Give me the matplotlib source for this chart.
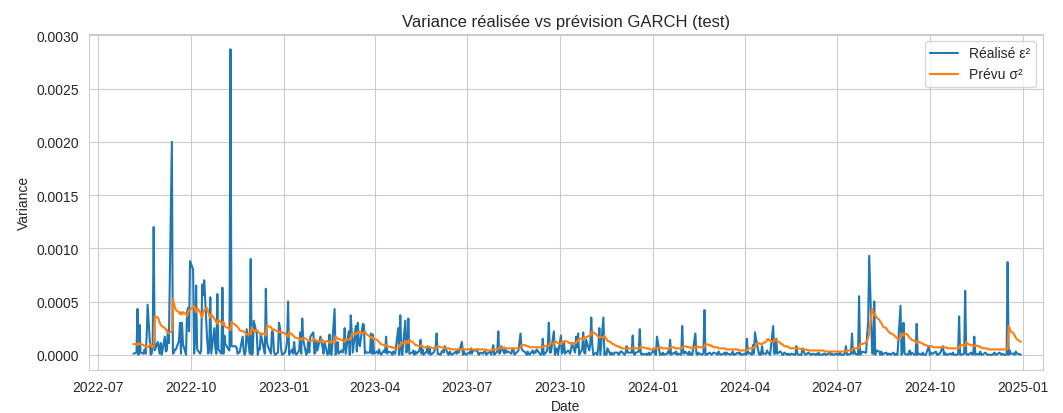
import numpy as np
import pandas as pd
import matplotlib
matplotlib.use("Agg")
import matplotlib.pyplot as plt
import seaborn as sns

# variance réalisée (unités de 1e-5), une ligne = une semaine de bourse
realise = [
    1, 2, 43, 0, 28,   2, 1, 5, 1, 16,   47, 0, 1, 8, 120,   4, 12, 6, 1, 11,
    0, 17, 3, 4, 23,   11, 200, 1, 2, 5,   5, 13, 30, 1, 30,   10, 0, 40, 44, 22,
    88, 80, 1, 14, 65,   5, 1, 4, 66, 56,   70, 13, 1, 6, 54,   1, 25, 6, 1, 57,
    5, 1, 63, 1, 18,   10, 5, 4, 287, 8,   8, 8, 7, 1, 2,   2, 17, 4, 0, 3,
    24, 1, 90, 0, 1,   32, 20, 0, 6, 5,   20, 5, 1, 62, 12,   8, 1, 22, 21, 3,
    0, 2, 30, 25, 6,   0, 2, 6, 13, 50,   0, 5, 1, 12, 2,   0, 4, 21, 1, 34,
    14, 0, 3, 12, 2,   17, 21, 1, 2, 13,   4, 17, 12, 8, 1,   12, 0, 1, 19, 1,
    0, 43, 0, 3, 12,   1, 4, 2, 6, 25,   1, 22, 0, 37, 21,   2, 27, 3, 30, 12,
    8, 29, 28, 1, 3,   2, 2, 20, 1, 19,   1, 3, 1, 5, 2,   0, 4, 2, 17, 1,
    3, 2, 0, 3, 1,   1, 25, 0, 37, 7,   0, 32, 2, 5, 34,   1, 2, 4, 0, 3,
    1, 4, 14, 1, 5,   0, 3, 8, 1, 7,   0, 2, 4, 8, 20,   1, 0, 3, 4, 2,
    8, 1, 0, 3, 1,   0, 2, 3, 1, 5,   2, 12, 0, 3, 1,   0, 2, 1, 6, 1,
    4, 4, 5, 1, 0,   2, 1, 3, 4, 0,   1, 3, 0, 4, 9,   0, 3, 22, 1, 2,
    8, 1, 5, 2, 3,   3, 1, 6, 5, 0,   1, 4, 12, 20, 6,   4, 2, 0, 3, 1,
    0, 4, 1, 3, 2,   5, 1, 0, 1, 15,   0, 3, 8, 30, 2,   2, 22, 0, 4, 6,
    0, 18, 1, 3, 12,   1, 4, 3, 1, 5,   11, 2, 17, 7, 20,   0, 5, 21, 2, 1,
    14, 4, 10, 35, 9,   0, 2, 0, 7, 25,   0, 35, 0, 2, 0,   6, 0, 2, 1, 0,
    2, 2, 0, 1, 3,   3, 0, 2, 8, 2,   2, 2, 18, 1, 0,   2, 3, 24, 1, 0,
    1, 0, 1, 0, 2,   0, 3, 6, 1, 0,   17, 0, 1, 0, 2,   0, 1, 3, 1, 14,
    0, 2, 1, 3, 0,   1, 0, 27, 2, 1,   3, 0, 3, 0, 1,   0, 20, 1, 0, 2,
    1, 0, 2, 42, 0,   0, 2, 1, 0, 1,   2, 1, 0, 3, 1,   0, 1, 2, 0, 2,
    1, 0, 1, 3, 0,   0, 2, 1, 2, 0,   0, 1, 0, 15, 1,   2, 0, 9, 1, 21,
    15, 0, 2, 0, 8,   1, 1, 4, 2, 1,   0, 27, 1, 1, 15,   1, 3, 2, 0, 0,
    2, 0, 1, 0, 0,   1, 0, 0, 8, 1,   0, 0, 6, 4, 1,   0, 2, 1, 0, 0,
    1, 0, 1, 0, 2,   0, 0, 1, 1, 0,   0, 2, 0, 1, 0,   0, 1, 0, 0, 2,
    0, 0, 2, 8, 0,   0, 1, 20, 1, 5,   1, 0, 55, 0, 1,   3, 2, 2, 19, 30,
    93, 1, 1, 50, 0,   4, 3, 0, 3, 0,   1, 2, 0, 1, 1,   0, 2, 0, 0, 1,
    0, 46, 0, 3, 30,   1, 0, 1, 4, 0,   2, 0, 0, 29, 0,   1, 0, 2, 0, 0,
    0, 8, 0, 2, 1,   1, 3, 0, 0, 1,   1, 8, 0, 2, 0,   0, 1, 1, 0, 2,
    0, 0, 1, 36, 0,   0, 1, 60, 1, 0,   0, 2, 0, 1, 17,   0, 1, 0, 3, 0,
    0, 2, 1, 0, 0,   0, 0, 1, 2, 0,   0, 2, 1, 0, 1,   0, 0, 87, 0, 4,
    1, 1, 0, 3, 1,   1, 0,
]

# variance prévue par le GARCH (unités de 1e-5)
prevu = [
    10, 10, 9, 11, 10,   10, 9, 8, 8, 7,   7, 10, 8, 7, 7,   36, 35, 33, 30, 28,
    27, 25, 24, 22, 21,   20, 22, 53, 48, 45,   42, 40, 38, 40, 38,   40, 38, 36, 40, 42,
    42, 45, 46, 42, 40,   44, 40, 37, 35, 40,   42, 44, 40, 37, 35,   38, 34, 32, 31, 29,
    33, 30, 28, 31, 28,   26, 25, 24, 23, 31,   30, 28, 27, 26, 25,   23, 22, 22, 21, 20,
    19, 20, 19, 26, 24,   22, 23, 22, 21, 20,   19, 20, 19, 18, 28,   27, 26, 24, 23, 24,
    23, 22, 21, 22, 22,   21, 20, 19, 18, 17,   21, 19, 18, 17, 16,   16, 15, 14, 15, 14,
    16, 15, 14, 13, 13,   13, 14, 15, 14, 13,   13, 12, 14, 14, 13,   12, 13, 12, 11, 13,
    12, 11, 17, 16, 15,   15, 14, 13, 13, 12,   15, 14, 15, 14, 19,   20, 19, 21, 20, 22,
    21, 20, 21, 22, 20,   19, 17, 16, 17, 15,   15, 14, 13, 12, 11,   10, 9, 9, 8, 9,
    8, 7, 7, 7, 6,   6, 6, 9, 8, 12,   11, 10, 13, 12, 11,   14, 12, 11, 10, 9,
    9, 8, 8, 9, 8,   7, 7, 7, 7, 7,   7, 6, 6, 6, 7,   8, 7, 7, 7, 6,
    6, 6, 6, 6, 5,   5, 5, 5, 5, 5,   5, 5, 6, 5, 5,   5, 5, 5, 5, 5,
    5, 5, 5, 5, 5,   5, 5, 5, 4, 5,   4, 4, 4, 4, 5,   5, 5, 5, 7, 7,
    6, 7, 6, 6, 6,   6, 6, 6, 6, 6,   6, 6, 6, 7, 9,   9, 9, 8, 8, 8,
    7, 7, 7, 7, 7,   7, 7, 7, 7, 7,   8, 8, 8, 8, 11,   11, 10, 13, 12, 12,
    11, 10, 13, 12, 12,   13, 12, 11, 11, 10,   10, 11, 11, 13, 13,   15, 15, 14, 17, 16,
    16, 18, 18, 19, 22,   21, 19, 18, 17, 16,   17, 16, 18, 16, 15,   13, 12, 11, 10, 10,
    9, 8, 8, 7, 7,   6, 6, 6, 6, 6,   6, 6, 6, 7, 6,   6, 6, 6, 8, 7,
    7, 6, 6, 6, 6,   5, 5, 5, 6, 6,   6, 7, 7, 6, 6,   6, 6, 5, 6, 6,
    7, 7, 6, 6, 6,   6, 6, 6, 8, 8,   8, 7, 7, 7, 6,   6, 6, 8, 8, 7,
    7, 7, 7, 7, 10,   10, 9, 9, 8, 8,   7, 7, 7, 6, 6,   6, 6, 6, 5, 5,
    5, 5, 5, 5, 5,   5, 5, 4, 4, 4,   4, 4, 4, 4, 6,   6, 6, 6, 7, 7,
    10, 11, 10, 10, 10,   11, 12, 14, 15, 14,   13, 12, 14, 15, 13,   13, 11, 10, 10, 9,
    8, 8, 7, 7, 6,   6, 6, 6, 6, 6,   6, 5, 5, 5, 5,   5, 4, 4, 4, 4,
    4, 4, 4, 4, 4,   4, 4, 4, 3, 3,   3, 3, 3, 3, 3,   3, 3, 3, 3, 3,
    3, 3, 3, 3, 4,   4, 4, 4, 6, 6,   6, 6, 6, 10, 10,   10, 11, 12, 13, 16,
    20, 43, 40, 37, 38,   35, 33, 31, 30, 28,   26, 25, 23, 22, 21,   20, 19, 18, 17, 16,
    15, 15, 20, 19, 18,   20, 19, 17, 16, 15,   14, 13, 12, 11, 13,   12, 11, 10, 10, 9,
    9, 8, 8, 8, 8,   7, 7, 7, 7, 7,   7, 7, 7, 7, 7,   6, 6, 6, 6, 6,
    6, 6, 6, 6, 9,   9, 9, 8, 12, 11,   10, 9, 9, 8, 8,   9, 8, 8, 7, 7,
    6, 6, 6, 6, 5,   5, 5, 5, 5, 5,   5, 5, 5, 5, 5,   5, 5, 5, 27, 25,
    22, 20, 18, 16, 15,   14, 12,
]

dates = pd.bdate_range("2022-08-05", periods=len(realise))
realise = np.array(realise) * 1e-5
prevu = np.array(prevu) * 1e-5

sns.set_style("whitegrid")
plt.rcParams["font.family"] = ["Liberation Sans", "DejaVu Sans"]

fig = plt.figure(figsize=(10.63, 4.14), dpi=100)
plt.plot(dates, realise, label="Réalisé ε²")
plt.plot(dates, prevu, label="Prévu σ²")
plt.title("Variance réalisée vs prévision GARCH (test)")
plt.xlabel("Date")
plt.ylabel("Variance")
plt.xlim(pd.Timestamp("2022-06-22"), pd.Timestamp("2025-01-21"))
plt.legend(loc="upper right")
plt.subplots_adjust(left=89 / 1063, right=1043 / 1063, top=1 - 35 / 414, bottom=1 - 371 / 414)
plt.savefig("out.png")
plt.close()
